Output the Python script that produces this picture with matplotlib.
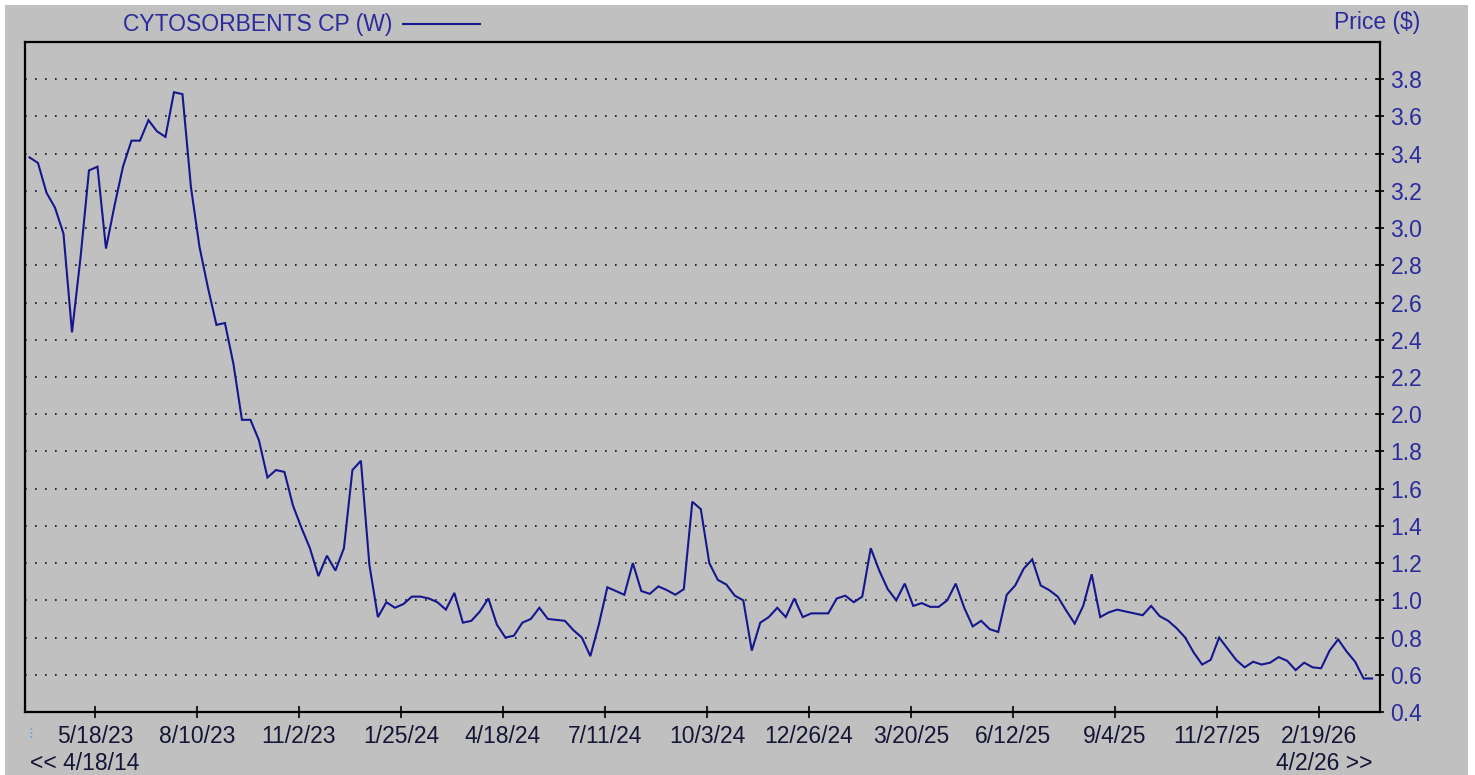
import matplotlib
matplotlib.use("Agg")
import matplotlib.pyplot as plt
import pandas as pd
from datetime import datetime
from matplotlib.patches import Rectangle

# ---- data (weekly closes) ----
start_date = "2023-03-25"
prices = [
    3.38, 3.35, 3.19, 3.11, 2.97, 2.44, 2.84, 3.31, 3.33, 2.89,
    3.12, 3.33, 3.47, 3.47, 3.58, 3.52, 3.49, 3.73, 3.72, 3.22,
    2.90, 2.68, 2.48, 2.49, 2.27, 1.97, 1.97, 1.86, 1.66, 1.70,
    1.69, 1.51, 1.39, 1.28, 1.13, 1.24, 1.16, 1.28, 1.70, 1.75,
    1.19, 0.91, 0.99, 0.96, 0.98, 1.02, 1.02, 1.01, 0.99, 0.95,
    1.04, 0.88, 0.89, 0.94, 1.01, 0.87, 0.80, 0.81, 0.88, 0.90,
    0.96, 0.90, 0.895, 0.89, 0.84, 0.80, 0.70, 0.87, 1.07, 1.05,
    1.03, 1.20, 1.05, 1.035, 1.075, 1.055, 1.03, 1.06, 1.53, 1.49,
    1.20, 1.11, 1.085, 1.025, 1.00, 0.73, 0.88, 0.91, 0.96, 0.91,
    1.01, 0.91, 0.93, 0.93, 0.93, 1.01, 1.025, 0.99, 1.02, 1.28,
    1.16, 1.06, 1.00, 1.09, 0.97, 0.985, 0.965, 0.965, 1.00, 1.09,
    0.96, 0.86, 0.89, 0.845, 0.83, 1.03, 1.08, 1.17, 1.22, 1.08,
    1.055, 1.02, 0.945, 0.875, 0.97, 1.14, 0.91, 0.935, 0.95, 0.94,
    0.93, 0.92, 0.97, 0.915, 0.89, 0.85, 0.80, 0.72, 0.655, 0.68,
    0.80, 0.74, 0.68, 0.64, 0.67, 0.655, 0.665, 0.695, 0.675, 0.625,
    0.665, 0.64, 0.635, 0.73, 0.79, 0.725, 0.67, 0.58, 0.58,
]
dates = pd.date_range(start_date, periods=len(prices), freq="7D")

x_tick_labels = ["5/18/23", "8/10/23", "11/2/23", "1/25/24", "4/18/24", "7/11/24",
                 "10/3/24", "12/26/24", "3/20/25", "6/12/25", "9/4/25", "11/27/25",
                 "2/19/26"]
y_ticks = [0.4, 0.6, 0.8, 1.0, 1.2, 1.4, 1.6, 1.8, 2.0, 2.2, 2.4, 2.6, 2.8,
           3.0, 3.2, 3.4, 3.6, 3.8]
series_name = "CYTOSORBENTS CP (W)"
y_axis_title = "Price ($)"
range_start_label = "<< 4/18/14"
range_end_label = "4/2/26 >>"

# ---- styling ----
W, H = 1475, 775
BG = "#c0c0c0"
LINE = "#16168e"
BLUE_TXT = "#2b2b9c"
DARK_TXT = "#151535"
FONT = ["Liberation Sans", "DejaVu Sans"]
FS = 16.5

plt.rcParams["font.family"] = FONT

fig = plt.figure(figsize=(W / 100, H / 100), dpi=100, facecolor="white")
fig.patches.append(Rectangle((5 / W, 0), (1468 - 5) / W, (775 - 5) / H,
                             transform=fig.transFigure, facecolor=BG,
                             edgecolor="none", zorder=-10))

ax_l, ax_r, ax_t, ax_b = 25, 1380, 42, 712
ax = fig.add_axes([ax_l / W, 1 - ax_b / H, (ax_r - ax_l) / W, (ax_b - ax_t) / H])
ax.set_facecolor(BG)

ax.plot(dates, prices, color=LINE, lw=1.5, solid_joinstyle="miter", zorder=3)

ax.set_ylim(0.4, 4.0)
ax.set_xlim(datetime(2023, 3, 21, 7), datetime(2026, 4, 10, 12))

tick_dates = [datetime.strptime(s, "%m/%d/%y") for s in x_tick_labels]
ax.set_xticks(tick_dates)
ax.set_xticklabels(x_tick_labels)
ax.set_yticks(y_ticks)
ax.set_yticklabels([f"{v:.1f}" for v in y_ticks])

ax.yaxis.tick_right()
ax.tick_params(axis="y", which="both", direction="inout", length=6, width=1.2,
               pad=4.5, labelsize=FS, labelcolor=BLUE_TXT, color="black",
               left=False, right=True)
ax.tick_params(axis="x", direction="inout", length=8.5, width=1.2, pad=5,
               labelsize=FS, labelcolor=DARK_TXT, color="black")

for v in y_ticks[1:]:
    ax.axhline(v, color="#111111", lw=1.2, linestyle=(0, (1, 5)), zorder=1)

for s in ax.spines.values():
    s.set_color("black")
    s.set_linewidth(1.6)

# header texts
fig.text(123 / W, 1 - 24 / H, series_name, color=BLUE_TXT, fontsize=FS,
         ha="left", va="center")
fig.add_artist(plt.Line2D([403 / W, 480 / W], [1 - 23.5 / H, 1 - 23.5 / H],
                          color=LINE, lw=1.5, transform=fig.transFigure))
fig.text(1420 / W, 1 - 23 / H, y_axis_title, color=BLUE_TXT, fontsize=FS,
         ha="right", va="center")

# range labels
fig.text(30 / W, 1 - 763 / H, range_start_label, color=DARK_TXT, fontsize=FS,
         ha="left", va="center")
fig.text(1372 / W, 1 - 763 / H, range_end_label, color=DARK_TXT, fontsize=FS,
         ha="right", va="center")
fig.text(31 / W, 1 - 735 / H, "\u205d", color="#6fa8dc", fontsize=11,
         ha="center", va="center", family=["DejaVu Sans"])

fig.savefig("out.png", dpi=100, facecolor="white")
